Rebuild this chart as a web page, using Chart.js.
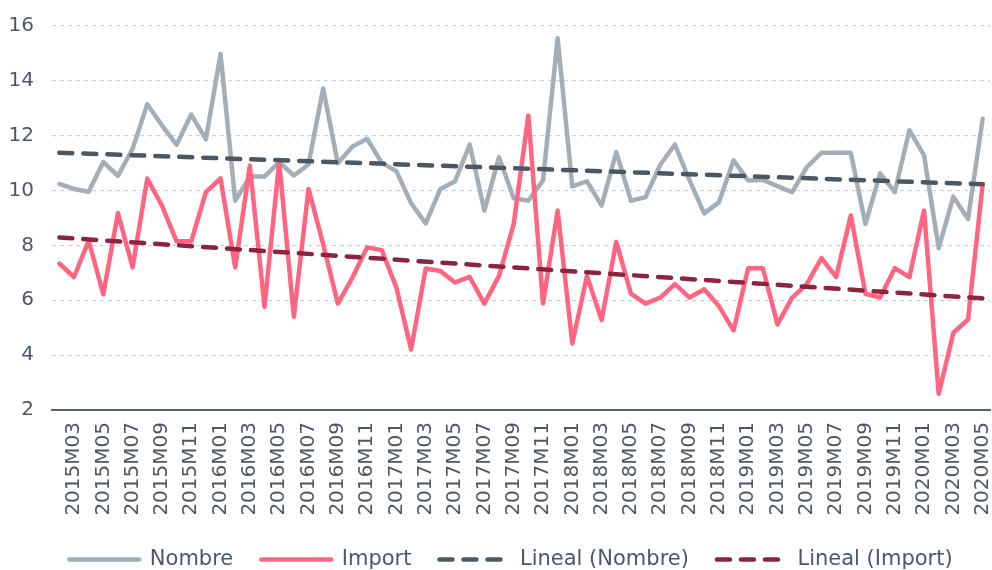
<!DOCTYPE html>
<html>
<head>
<meta charset="utf-8">
<script src="https://cdn.jsdelivr.net/npm/chart.js@4/dist/chart.umd.min.js"></script>
<style>
  html, body { margin: 0; padding: 0; background: #ffffff; }
  #wrap { width: 992px; height: 570px; }
</style>
</head>
<body>
<div id="wrap"><canvas id="c" width="992" height="570"></canvas></div>
<script>
// Categories: monthly 2015M02 .. 2020M05 (labels shown every second month)
const categories = [
  '2015M02','2015M03','2015M04','2015M05','2015M06','2015M07','2015M08','2015M09','2015M10','2015M11','2015M12',
  '2016M01','2016M02','2016M03','2016M04','2016M05','2016M06','2016M07','2016M08','2016M09','2016M10','2016M11','2016M12',
  '2017M01','2017M02','2017M03','2017M04','2017M05','2017M06','2017M07','2017M08','2017M09','2017M10','2017M11','2017M12',
  '2018M01','2018M02','2018M03','2018M04','2018M05','2018M06','2018M07','2018M08','2018M09','2018M10','2018M11','2018M12',
  '2019M01','2019M02','2019M03','2019M04','2019M05','2019M06','2019M07','2019M08','2019M09','2019M10','2019M11','2019M12',
  '2020M01','2020M02','2020M03','2020M04','2020M05'
];

const nombre = [
  10.24, 10.06, 9.96, 11.04, 10.54, 11.52, 13.15, 12.38, 11.67, 12.77, 11.87,
  14.98, 9.63, 10.51, 10.51, 11.04, 10.55, 10.95, 13.72, 11.00, 11.61, 11.89, 11.01,
  10.71, 9.54, 8.80, 10.06, 10.34, 11.68, 9.27, 11.22, 9.72, 9.63, 10.37, 15.55,
  10.15, 10.34, 9.45, 11.40, 9.63, 9.76, 10.94, 11.68, 10.37, 9.17, 9.57, 11.10,
  10.37, 10.39, 10.16, 9.94, 10.85, 11.38, 11.38, 11.38, 8.78, 10.63, 9.94, 12.20,
  11.28, 7.90, 9.78, 8.96, 12.62
];

const importe = [
  7.34, 6.85, 8.17, 6.22, 9.18, 7.20, 10.44, 9.45, 8.15, 8.15, 9.94,
  10.44, 7.20, 10.91, 5.76, 11.04, 5.40, 10.06, 8.05, 5.88, 6.83, 7.93, 7.83,
  6.46, 4.21, 7.16, 7.07, 6.65, 6.85, 5.88, 6.89, 8.78, 12.74, 5.88, 9.27,
  4.42, 6.89, 5.28, 8.13, 6.24, 5.88, 6.10, 6.59, 6.10, 6.40, 5.79, 4.90,
  7.17, 7.17, 5.12, 6.10, 6.59, 7.54, 6.85, 9.09, 6.24, 6.10, 7.17, 6.85,
  9.27, 2.59, 4.82, 5.30, 10.24
];

// Trend lines: start and end values
const trendNombreEnds = [11.38, 10.23];
const trendImportEnds = [8.29, 6.07];

const yTicks = { min: 2, max: 16, step: 2 };
const seriesNames = ['Nombre', 'Import', 'Lineal (Nombre)', 'Lineal (Import)'];

function endsToSeries(ends) {
  const arr = categories.map(() => null);
  arr[0] = ends[0];
  arr[arr.length - 1] = ends[1];
  return arr;
}

const FONT = 'DejaVu Sans';
const TEXT = '#4c5862';
const LW = 4.5;

const shiftLegend = {
  id: 'shiftLegend',
  afterLayout(chart) {
    if (chart.legend) { chart.legend.left += 28; }
  }
};

new Chart(document.getElementById('c'), {
  type: 'line',
  data: {
    labels: categories,
    datasets: [
      { label: seriesNames[0], data: nombre, borderColor: '#a4aeb6', backgroundColor: '#a4aeb6',
        borderWidth: LW, pointRadius: 0, tension: 0, borderJoinStyle: 'round', borderCapStyle: 'round', order: 4 },
      { label: seriesNames[1], data: importe, borderColor: '#ff6580', backgroundColor: '#ff6580',
        borderWidth: LW, pointRadius: 0, tension: 0, borderJoinStyle: 'round', borderCapStyle: 'round', order: 3 },
      { label: seriesNames[2], data: endsToSeries(trendNombreEnds), borderColor: '#4b5863', backgroundColor: '#4b5863',
        borderWidth: LW, borderDash: [13, 11], borderCapStyle: 'round', pointRadius: 0, spanGaps: true, order: 2 },
      { label: seriesNames[3], data: endsToSeries(trendImportEnds), borderColor: '#8c2440', backgroundColor: '#8c2440',
        borderWidth: LW, borderDash: [13, 11], borderCapStyle: 'round', pointRadius: 0, spanGaps: true, order: 1 }
    ]
  },
  plugins: [shiftLegend],
  options: {
    responsive: false,
    animation: false,
    layout: { padding: { top: 26, right: 2, left: 4, bottom: -10 } },
    plugins: {
      tooltip: { enabled: false },
      legend: {
        position: 'bottom',
        labels: {
          usePointStyle: true,
          pointStyle: 'line',
          pointStyleWidth: 70,
          boxHeight: 20,
          padding: 28,
          color: TEXT,
          font: { family: FONT, size: 21 },
          sort: (a, b) => a.datasetIndex - b.datasetIndex,
          generateLabels: function(chart) {
            const items = Chart.defaults.plugins.legend.labels.generateLabels(chart);
            items.forEach(it => {
              const ds = chart.data.datasets[it.datasetIndex];
              it.lineDash = ds.borderDash || [];
              it.lineWidth = ds.borderWidth;
              it.lineCap = 'round';
              it.strokeStyle = ds.borderColor;
              it.fillStyle = ds.borderColor;
            });
            return items;
          }
        }
      }
    },
    scales: {
      x: {
        offset: true,
        grid: { display: false, drawTicks: false },
        border: { display: true, color: '#56626c', width: 2 },
        ticks: {
          autoSkip: false,
          minRotation: 90,
          maxRotation: 90,
          padding: 12,
          color: TEXT,
          font: { family: FONT, size: 20 },
          callback: function(v, i) { return i % 2 === 1 ? categories[i] : ''; }
        },
        afterFit: function(scale) {
          scale.height = 111;
          scale.paddingLeft = 0;
          scale.paddingRight = 0;
        }
      },
      y: {
        min: yTicks.min,
        max: yTicks.max,
        grid: { color: '#c9d3db', lineWidth: 1.2, drawTicks: false },
        border: { display: false, dash: [4, 4] },
        ticks: {
          stepSize: yTicks.step,
          padding: 18,
          color: TEXT,
          font: { family: FONT, size: 20 }
        },
        afterFit: function(scale) {
          scale.width = 48;
          scale.paddingTop = 0;
          scale.paddingBottom = 0;
        }
      }
    }
  }
});
</script>
</body>
</html>
